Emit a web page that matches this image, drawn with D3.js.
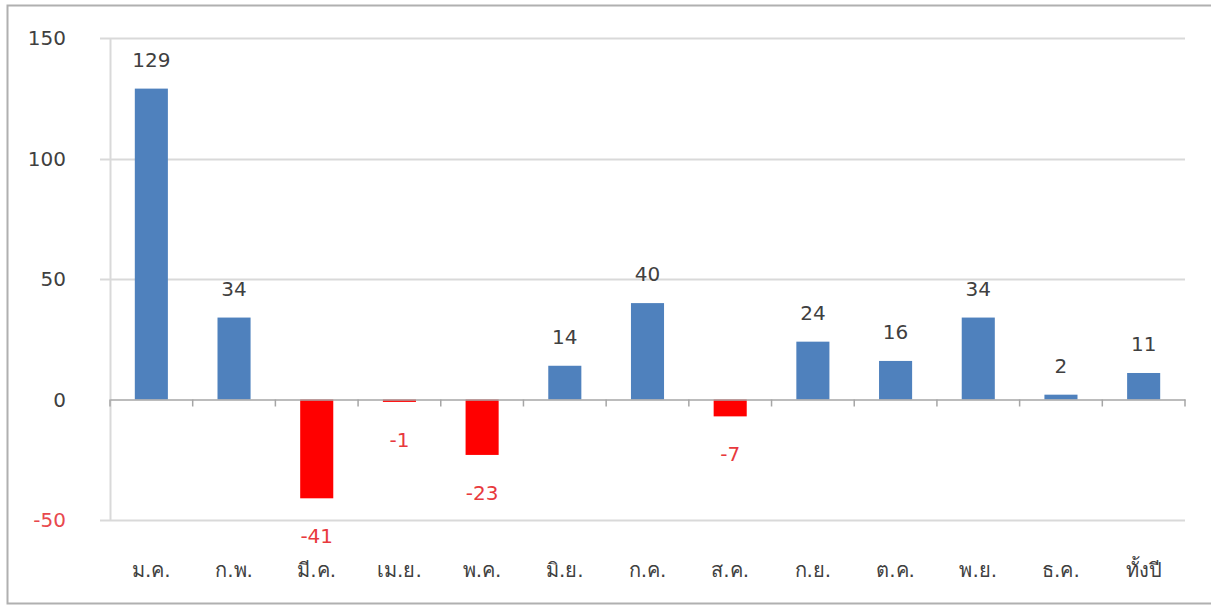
<!DOCTYPE html>
<html>
<head>
<meta charset="utf-8">
<script src="https://cdn.jsdelivr.net/npm/d3@7"></script>
<style>
  html, body { margin: 0; padding: 0; background: #fff; overflow: hidden; }
  svg { display: block; }
  text { font-family: Tahoma, "DejaVu Sans", "Noto Sans", sans-serif; }
</style>
</head>
<body>
<div id="chart"></div>
<script>
// Chart data
var months = ["ม.ค.", "ก.พ.", "มี.ค.", "เม.ย.", "พ.ค.", "มิ.ย.", "ก.ค.", "ส.ค.", "ก.ย.", "ต.ค.", "พ.ย.", "ธ.ค.", "ทั้งปี"];
var values = [129, 34, -41, -1, -23, 14, 40, -7, 24, 16, 34, 2, 11];
var yTicks = [-50, 0, 50, 100, 150];

var width = 1211, height = 606;
var margin = {top: 38, right: 26, bottom: 86, left: 110};
var innerWidth = width - margin.left - margin.right;
var innerHeight = height - margin.top - margin.bottom;

var blue = "#4f81bd", red = "#ff0000", grid = "#d9d9d9", axisGray = "#a6a6a6", textGray = "#404040";

var svg = d3.select("#chart").append("svg")
    .attr("width", width)
    .attr("height", height)
    .attr("viewBox", "0 0 " + width + " " + height);

// outer frame (left, top, bottom)
svg.append("path")
    .attr("d", "M1211,5.5H7.5V603.5H1211")
    .attr("fill", "none")
    .attr("stroke", "#b0b0b0")
    .attr("stroke-width", 2);

// Scales (absolute page coordinates)
var x = d3.scaleBand().domain(months).range([margin.left, margin.left + innerWidth]).paddingInner(0.6).paddingOuter(0.3);
var xCat = d3.scaleBand().domain(months).range([margin.left, margin.left + innerWidth]);
var y = d3.scaleLinear().domain([-50, 150]).range([margin.top + innerHeight, margin.top]);

// Grid lines
svg.selectAll(".grid")
  .data(yTicks.filter(function(d){ return d != 0; }))
  .enter().append("line")
    .attr("class", "grid")
    .attr("x1", margin.left - 10).attr("x2", margin.left + innerWidth)
    .attr("y1", function(d){ return Math.round(y(d)) + 0.5; })
    .attr("y2", function(d){ return Math.round(y(d)) + 0.5; })
    .attr("stroke", grid)
    .attr("stroke-width", 2);

// Y axis line
svg.append("line")
    .attr("x1", margin.left + 0.5).attr("x2", margin.left + 0.5)
    .attr("y1", y(150)).attr("y2", y(-50))
    .attr("stroke", grid)
    .attr("stroke-width", 2);

// Y tick labels
svg.selectAll(".ylab")
  .data(yTicks)
  .enter().append("text")
    .attr("class", "ylab")
    .attr("x", margin.left - 44)
    .attr("y", function(d){ return y(d) + 7; })
    .attr("text-anchor", "end")
    .attr("font-size", 20)
    .attr("fill", function(d){ return d < 0 ? "#e8484d" : textGray; })
    .text(function(d){ return d; });

// Bars
svg.selectAll(".bar")
  .data(values)
  .enter().append("rect")
    .attr("class", "bar")
    .attr("x", function(d, i){ return x(months[i]); })
    .attr("width", x.bandwidth())
    .attr("y", function(d){ return y(Math.max(0, d)); })
    .attr("height", function(d){ return Math.abs(y(d) - y(0)); })
    .attr("fill", function(d){ return d < 0 ? red : blue; });

// Zero axis with category ticks
var xAxis = d3.axisBottom(xCat).tickSize(0).tickFormat("");
svg.append("g")
    .attr("transform", "translate(0," + y(0) + ")")
    .call(xAxis)
    .call(function(s){ s.select(".domain").attr("stroke", axisGray).attr("stroke-width", 1.5); });

svg.selectAll(".xtick")
  .data(d3.range(months.length + 1))
  .enter().append("line")
    .attr("class", "xtick")
    .attr("x1", function(i){ return margin.left + i * xCat.step(); })
    .attr("x2", function(i){ return margin.left + i * xCat.step(); })
    .attr("y1", y(0)).attr("y2", y(0) + 7)
    .attr("stroke", axisGray)
    .attr("stroke-width", 1.5);

// Value labels
svg.selectAll(".vlab")
  .data(values)
  .enter().append("text")
    .attr("class", "vlab")
    .attr("x", function(d, i){ return x(months[i]) + x.bandwidth() / 2; })
    .attr("y", function(d){ return d < 0 ? y(d) + 45 : y(d) - 22; })
    .attr("text-anchor", "middle")
    .attr("font-size", 20)
    .attr("fill", function(d){ return d < 0 ? "#e8393d" : textGray; })
    .text(function(d){ return d; });

// Category labels
svg.selectAll(".xlab")
  .data(months)
  .enter().append("text")
    .attr("class", "xlab")
    .attr("x", function(d){ return x(d) + x.bandwidth() / 2; })
    .attr("y", 577)
    .attr("text-anchor", "middle")
    .attr("font-size", 20)
    .attr("fill", textGray)
    .text(function(d){ return d; });
</script>
</body>
</html>
